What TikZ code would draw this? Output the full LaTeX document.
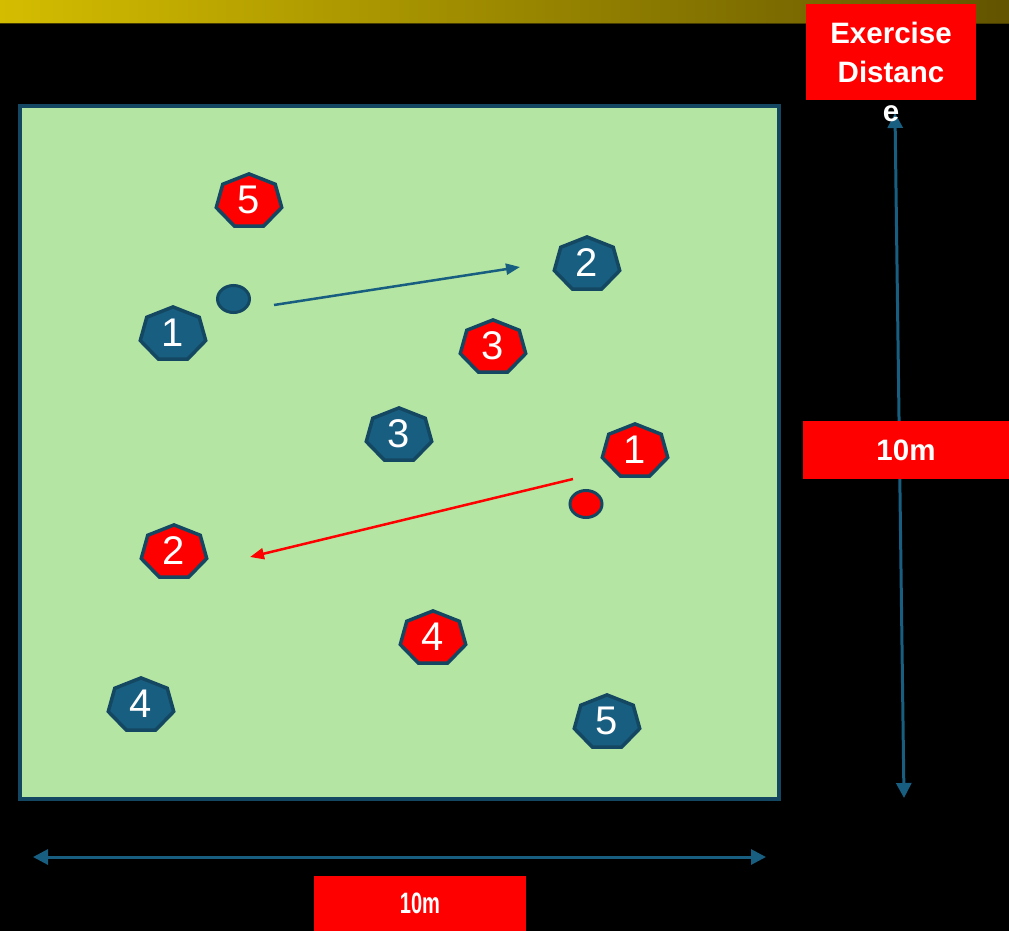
\documentclass[tikz,border=0pt]{standalone}
\usepackage{fontspec}
\setmainfont{Liberation Sans}
\usetikzlibrary{shapes.geometric,arrows.meta}
\definecolor{teamblue}{RGB}{24,94,128}
\definecolor{chipedge}{RGB}{20,72,98}
\definecolor{pitchgreen}{RGB}{180,229,162}
\definecolor{barleft}{RGB}{212,189,0}
\definecolor{barright}{RGB}{98,84,0}
\definecolor{tagred}{RGB}{255,0,0}

\begin{document}
\begin{tikzpicture}[
  x=1pt, y=-1pt,
  chip/.style={regular polygon, regular polygon sides=7, draw=chipedge,
    line width=3.5pt, minimum size=55pt, inner sep=0pt, xscale=1.22},
  bluechip/.style={chip, fill=teamblue},
  redchip/.style={chip, fill=tagred},
  num/.style={text=white, font=\fontsize{40}{40}\selectfont, inner sep=0pt},
  ball/.style={ellipse, draw=chipedge, line width=3pt,
    minimum width=32pt, minimum height=27pt, inner sep=0pt},
  pass/.style={line width=2.5pt, -{Triangle[length=14pt, width=11pt]}},
  dim/.style={line width=3pt, teamblue,
    {Triangle[length=15pt, width=15pt]}-{Triangle[length=15pt, width=15pt]}},
  tag/.style={fill=tagred, text=white, inner sep=0pt,
    font=\fontsize{29.5}{39}\selectfont\bfseries},
]
% Page and header bar
\fill[black] (0,0) rectangle (1009,931);
\useasboundingbox (0,0) rectangle (1009,931);
\shade[left color=barleft, right color=barright] (0,0) rectangle (1009,24);
\draw[barright!70!black, line width=1.5pt] (0,23.5) -- (1009,23.5);

% Pitch
\draw[fill=pitchgreen, draw=chipedge, line width=3.5pt] (20,106) rectangle (779,799);

% Blue team
\node[bluechip] (b1) at (173,334.4) {};
\node[bluechip] (b2) at (587,264.4) {};
\node[bluechip] (b3) at (399,435.4) {};
\node[bluechip] (b4) at (141,705.4) {};
\node[bluechip] (b5) at (607,722.4) {};
\foreach \n/\x/\y in {1/173/333, 2/587/263, 3/399/434, 4/141/704, 5/607/721}
  \node[num] (b\n txt) at (\x,\y) {\n};

% Red team
\node[redchip] (r1) at (635,451.4) {};
\node[redchip] (r2) at (174,552.4) {};
\node[redchip] (r3) at (493,347.4) {};
\node[redchip] (r4) at (433,638.4) {};
\node[redchip] (r5) at (249,201.4) {};
\foreach \n/\x/\y in {1/635/450, 2/174/551, 3/493/346, 4/433/637, 5/249/200}
  \node[num] (r\n txt) at (\x,\y) {\n};

% Balls and passes
\node[ball, fill=teamblue] (bball) at (233.5,299) {};
\node[ball, fill=tagred] (rball) at (586,504) {};
\coordinate (bpassA) at (274,305);
\coordinate (bpassB) at (520,267);
\coordinate (rpassA) at (573,479);
\coordinate (rpassB) at (250,557);
\draw[pass, teamblue] (bpassA) -- (bpassB);
\draw[pass, tagred] (rpassA) -- (rpassB);

% Distance markers
\coordinate (htop) at (895,113);
\coordinate (hbot) at (904,798);
\coordinate (wleft) at (33,857);
\coordinate (wright) at (766,857);
\draw[dim] (htop) -- (hbot);
\draw[dim] (wleft) -- (wright);

\node[tag, minimum width=170pt, minimum height=96pt] (exbox) at (891,52) {};
\node[text=white, inner sep=0pt, align=center,
  font=\fontsize{29.5}{39}\selectfont\bfseries] (extxt) at (891,72) {Exercise\\Distanc\\e};
\node[tag, minimum width=206pt, minimum height=58pt] (heighttag) at (906,450) {10m};
\node[tag, minimum width=212pt, minimum height=55pt] (widthtag) at (420,903.5)
  {\scalebox{0.68}[1]{10m}};
\end{tikzpicture}
\end{document}
